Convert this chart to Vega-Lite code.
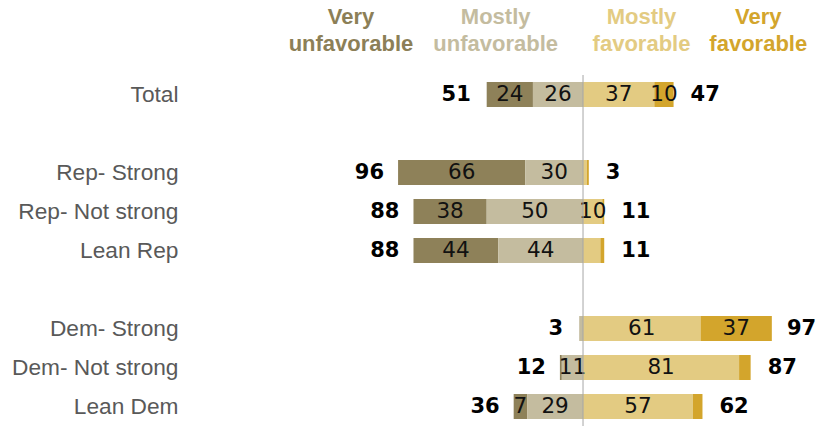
{
  "$schema": "https://vega.github.io/schema/vega-lite/v6.json",
  "width": 630,
  "height": 351,
  "autosize": {"type": "none"},
  "padding": {"left": 190, "top": 75, "right": 5, "bottom": 1},
  "background": "white",
  "config": {"view": {"stroke": null}, "axis": {"grid": false}},
  "datasets": {
    "segs": [
      {"cat": "Total", "resp": "Very unfavorable", "order": 2, "value": -24, "label": "24"},
      {"cat": "Total", "resp": "Mostly unfavorable", "order": 1, "value": -26, "label": "26"},
      {"cat": "Total", "resp": "Mostly favorable", "order": 3, "value": 37, "label": "37"},
      {"cat": "Total", "resp": "Very favorable", "order": 4, "value": 10, "label": "10"},
      {"cat": "Rep- Strong", "resp": "Very unfavorable", "order": 2, "value": -66, "label": "66"},
      {"cat": "Rep- Strong", "resp": "Mostly unfavorable", "order": 1, "value": -30, "label": "30"},
      {"cat": "Rep- Strong", "resp": "Mostly favorable", "order": 3, "value": 2, "label": ""},
      {"cat": "Rep- Strong", "resp": "Very favorable", "order": 4, "value": 1, "label": ""},
      {"cat": "Rep- Not strong", "resp": "Very unfavorable", "order": 2, "value": -38, "label": "38"},
      {"cat": "Rep- Not strong", "resp": "Mostly unfavorable", "order": 1, "value": -50, "label": "50"},
      {"cat": "Rep- Not strong", "resp": "Mostly favorable", "order": 3, "value": 10, "label": "10"},
      {"cat": "Rep- Not strong", "resp": "Very favorable", "order": 4, "value": 1, "label": ""},
      {"cat": "Lean Rep", "resp": "Very unfavorable", "order": 2, "value": -44, "label": "44"},
      {"cat": "Lean Rep", "resp": "Mostly unfavorable", "order": 1, "value": -44, "label": "44"},
      {"cat": "Lean Rep", "resp": "Mostly favorable", "order": 3, "value": 9, "label": ""},
      {"cat": "Lean Rep", "resp": "Very favorable", "order": 4, "value": 2, "label": ""},
      {"cat": "Dem- Strong", "resp": "Mostly unfavorable", "order": 1, "value": -2, "label": ""},
      {"cat": "Dem- Strong", "resp": "Mostly favorable", "order": 3, "value": 61, "label": "61"},
      {"cat": "Dem- Strong", "resp": "Very favorable", "order": 4, "value": 37, "label": "37"},
      {"cat": "Dem- Not strong", "resp": "Very unfavorable", "order": 2, "value": -1, "label": ""},
      {"cat": "Dem- Not strong", "resp": "Mostly unfavorable", "order": 1, "value": -11, "label": "11"},
      {"cat": "Dem- Not strong", "resp": "Mostly favorable", "order": 3, "value": 81, "label": "81"},
      {"cat": "Dem- Not strong", "resp": "Very favorable", "order": 4, "value": 6, "label": ""},
      {"cat": "Lean Dem", "resp": "Very unfavorable", "order": 2, "value": -7, "label": "7"},
      {"cat": "Lean Dem", "resp": "Mostly unfavorable", "order": 1, "value": -29, "label": "29"},
      {"cat": "Lean Dem", "resp": "Mostly favorable", "order": 3, "value": 57, "label": "57"},
      {"cat": "Lean Dem", "resp": "Very favorable", "order": 4, "value": 5, "label": ""}
    ],
    "totals": [
      {"cat": "Total", "total": -51, "label": "51"},
      {"cat": "Total", "total": 47, "label": "47"},
      {"cat": "Rep- Strong", "total": -96, "label": "96"},
      {"cat": "Rep- Strong", "total": 3, "label": "3"},
      {"cat": "Rep- Not strong", "total": -88, "label": "88"},
      {"cat": "Rep- Not strong", "total": 11, "label": "11"},
      {"cat": "Lean Rep", "total": -88, "label": "88"},
      {"cat": "Lean Rep", "total": 11, "label": "11"},
      {"cat": "Dem- Strong", "total": -3, "label": "3"},
      {"cat": "Dem- Strong", "total": 97, "label": "97"},
      {"cat": "Dem- Not strong", "total": -12, "label": "12"},
      {"cat": "Dem- Not strong", "total": 87, "label": "87"},
      {"cat": "Lean Dem", "total": -36, "label": "36"},
      {"cat": "Lean Dem", "total": 62, "label": "62"}
    ]
  },
  "layer": [
    {
      "data": {"name": "segs"},
      "transform": [
        {"stack": "value", "groupby": ["cat"], "sort": [{"field": "order"}], "as": ["x0", "x1"]}
      ],
      "mark": {"type": "bar"},
      "encoding": {
        "y": {
          "field": "cat", "type": "nominal",
          "scale": {"domain": ["Total", " ", "Rep- Strong", "Rep- Not strong", "Lean Rep", "  ", "Dem- Strong", "Dem- Not strong", "Lean Dem"], "paddingInner": 0.36, "paddingOuter": 0.18},
          "axis": {"title": null, "domain": false, "ticks": false, "labelFontSize": 22.7, "labelFont": "Liberation Sans", "labelColor": "#595959", "labelPadding": 12}
        },
        "x": {
          "field": "x0", "type": "quantitative",
          "scale": {"domain": [-204, 123], "nice": false, "zero": false},
          "axis": {
            "orient": "top", "title": null, "domain": false, "ticks": false, "grid": false,
            "values": [-120.7, -45.6, 30.1, 90.7],
            "labelExpr": "datum.value < -100 ? ['Very','unfavorable'] : datum.value < 0 ? ['Mostly','unfavorable'] : datum.value < 60 ? ['Mostly','favorable'] : ['Very','favorable']",
            "labelFont": "Liberation Sans", "labelFontSize": 22, "labelFontWeight": "bold", "labelLineHeight": 27,
            "labelPadding": 47, "labelOverlap": false, "labelFlush": false, "labelBound": false,
            "labelColor": {"condition": [{"test": "datum.value < -100", "value": "#8c7f57"}, {"test": "datum.value < 0", "value": "#c4bc9f"}, {"test": "datum.value < 60", "value": "#e3cb82"}], "value": "#d3a52c"}
          }
        },
        "x2": {"field": "x1"},
        "color": {
          "field": "resp", "type": "nominal", "legend": null,
          "scale": {"domain": ["Very unfavorable", "Mostly unfavorable", "Mostly favorable", "Very favorable"], "range": ["#8e8159", "#c4bc9f", "#e3cb82", "#d3a52c"]}
        }
      }
    },
    {
      "data": {"name": "segs"},
      "transform": [
        {"stack": "value", "groupby": ["cat"], "sort": [{"field": "order"}], "as": ["x0", "x1"]},
        {"filter": "datum.label != ''"},
        {"calculate": "(datum.x0 + datum.x1) / 2", "as": "mid"}
      ],
      "mark": {"type": "text", "font": "DejaVu Sans", "fontSize": 21.5, "color": "#111111", "baseline": "middle", "align": "center"},
      "encoding": {
        "y": {"field": "cat", "type": "nominal"},
        "x": {"field": "mid", "type": "quantitative"},
        "text": {"field": "label"}
      }
    },
    {
      "data": {"name": "totals"},
      "transform": [{"filter": "datum.total < 0"}],
      "mark": {"type": "text", "font": "DejaVu Sans", "fontWeight": "bold", "fontSize": 21, "color": "#000000", "baseline": "middle", "align": "right", "dx": -14},
      "encoding": {
        "y": {"field": "cat", "type": "nominal"},
        "x": {"field": "total", "type": "quantitative"},
        "text": {"field": "label"}
      }
    },
    {
      "data": {"name": "totals"},
      "transform": [{"filter": "datum.total > 0"}],
      "mark": {"type": "text", "font": "DejaVu Sans", "fontWeight": "bold", "fontSize": 21, "color": "#000000", "baseline": "middle", "align": "left", "dx": 17},
      "encoding": {
        "y": {"field": "cat", "type": "nominal"},
        "x": {"field": "total", "type": "quantitative"},
        "text": {"field": "label"}
      }
    },
    {
      "data": {"values": [{"zero": 0}]},
      "mark": {"type": "rule", "color": "#a6a6a6", "strokeWidth": 1},
      "encoding": {"x": {"field": "zero", "type": "quantitative"}}
    }
  ]
}
